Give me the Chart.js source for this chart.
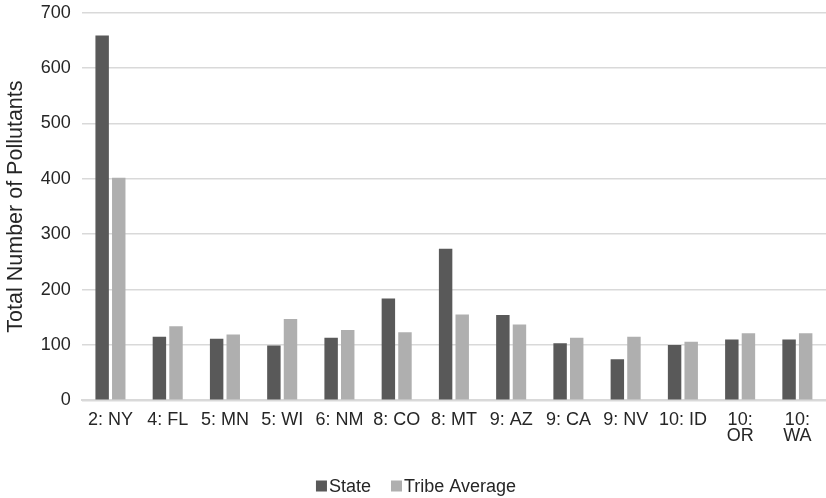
<!DOCTYPE html>
<html>
<head>
<meta charset="utf-8">
<script src="https://cdn.jsdelivr.net/npm/chart.js@4"></script>
<style>
  html, body { margin: 0; padding: 0; background: #ffffff; }
  #wrap { width: 826px; height: 498px; position: relative; }
</style>
</head>
<body>
<div id="wrap"><canvas id="c"></canvas></div>
<script>
const categories = ["2: NY", "4: FL", "5: MN", "5: WI", "6: NM", "8: CO", "8: MT", "9: AZ", "9: CA", "9: NV", "10: ID", ["10:", "OR"], ["10:", "WA"]];
const stateValues = [659, 115, 111, 99, 113, 184, 274, 154, 103, 74, 100, 110, 110];
const tribeAverageValues = [402, 134, 119, 147, 127, 123, 155, 137, 113, 115, 106, 121, 121];
const yTicks = [0, 100, 200, 300, 400, 500, 600, 700];
const seriesNames = ["State", "Tribe Average"];
const seriesColors = ["#595959", "#afafaf"];

const FONT = "'Liberation Sans', Arial, sans-serif";
const TEXT = '#262626';

// Custom bottom legend (small gap between swatch and text, like the original)
const bottomLegend = {
  id: 'bottomLegend',
  afterDraw(chart) {
    const ctx = chart.ctx;
    ctx.save();
    ctx.font = "18px " + FONT;
    ctx.textBaseline = 'middle';
    ctx.textAlign = 'left';
    const box = 11, gapText = 2, gapItem = 20;
    const items = chart.data.datasets.map(ds => ({ text: ds.label, color: ds.backgroundColor, w: ctx.measureText(ds.label).width }));
    const total = items.reduce((s, it) => s + box + gapText + it.w, 0) + gapItem * (items.length - 1);
    let x = (chart.width - total) / 2 + 3;
    const y = chart.height - 12;
    items.forEach(it => {
      ctx.fillStyle = it.color;
      ctx.fillRect(x, y - box / 2, box, box);
      x += box + gapText;
      ctx.fillStyle = TEXT;
      ctx.fillText(it.text, x, y + 1);
      x += it.w + gapItem;
    });
    ctx.restore();
  }
};

new Chart(document.getElementById('c'), {
  type: 'bar',
  data: {
    labels: categories,
    datasets: [
      { label: seriesNames[0], data: stateValues, backgroundColor: seriesColors[0], borderWidth: 0,
        categoryPercentage: 0.58, barPercentage: 0.81 },
      { label: seriesNames[1], data: tribeAverageValues, backgroundColor: seriesColors[1], borderWidth: 0,
        categoryPercentage: 0.58, barPercentage: 0.81 }
    ]
  },
  plugins: [bottomLegend],
  options: {
    responsive: true,
    maintainAspectRatio: false,
    animation: false,
    devicePixelRatio: 1,
    layout: { padding: { top: 0, right: 0, left: 3, bottom: 50 } },
    plugins: {
      legend: { display: false },
      tooltip: { enabled: false }
    },
    scales: {
      x: {
        grid: { display: false },
        border: { display: true, color: '#d9d9d9', width: 2 },
        ticks: { color: TEXT, font: { family: FONT, size: 18, lineHeight: 0.88 }, maxRotation: 0, autoSkip: false, padding: 4 }
      },
      y: {
        min: 0, max: 700,
        afterBuildTicks: (scale) => { scale.ticks = yTicks.map(v => ({ value: v })); },
        grid: { color: '#d9d9d9', lineWidth: 1.5, drawTicks: false },
        border: { display: false },
        ticks: { color: TEXT, font: { family: FONT, size: 18, lineHeight: 0.2 }, padding: 11 },
        title: { display: true, text: 'Total Number of Pollutants', color: TEXT, font: { family: FONT, size: 21.5 }, padding: { top: 0, bottom: 1 } }
      }
    }
  }
});
</script>
</body>
</html>
